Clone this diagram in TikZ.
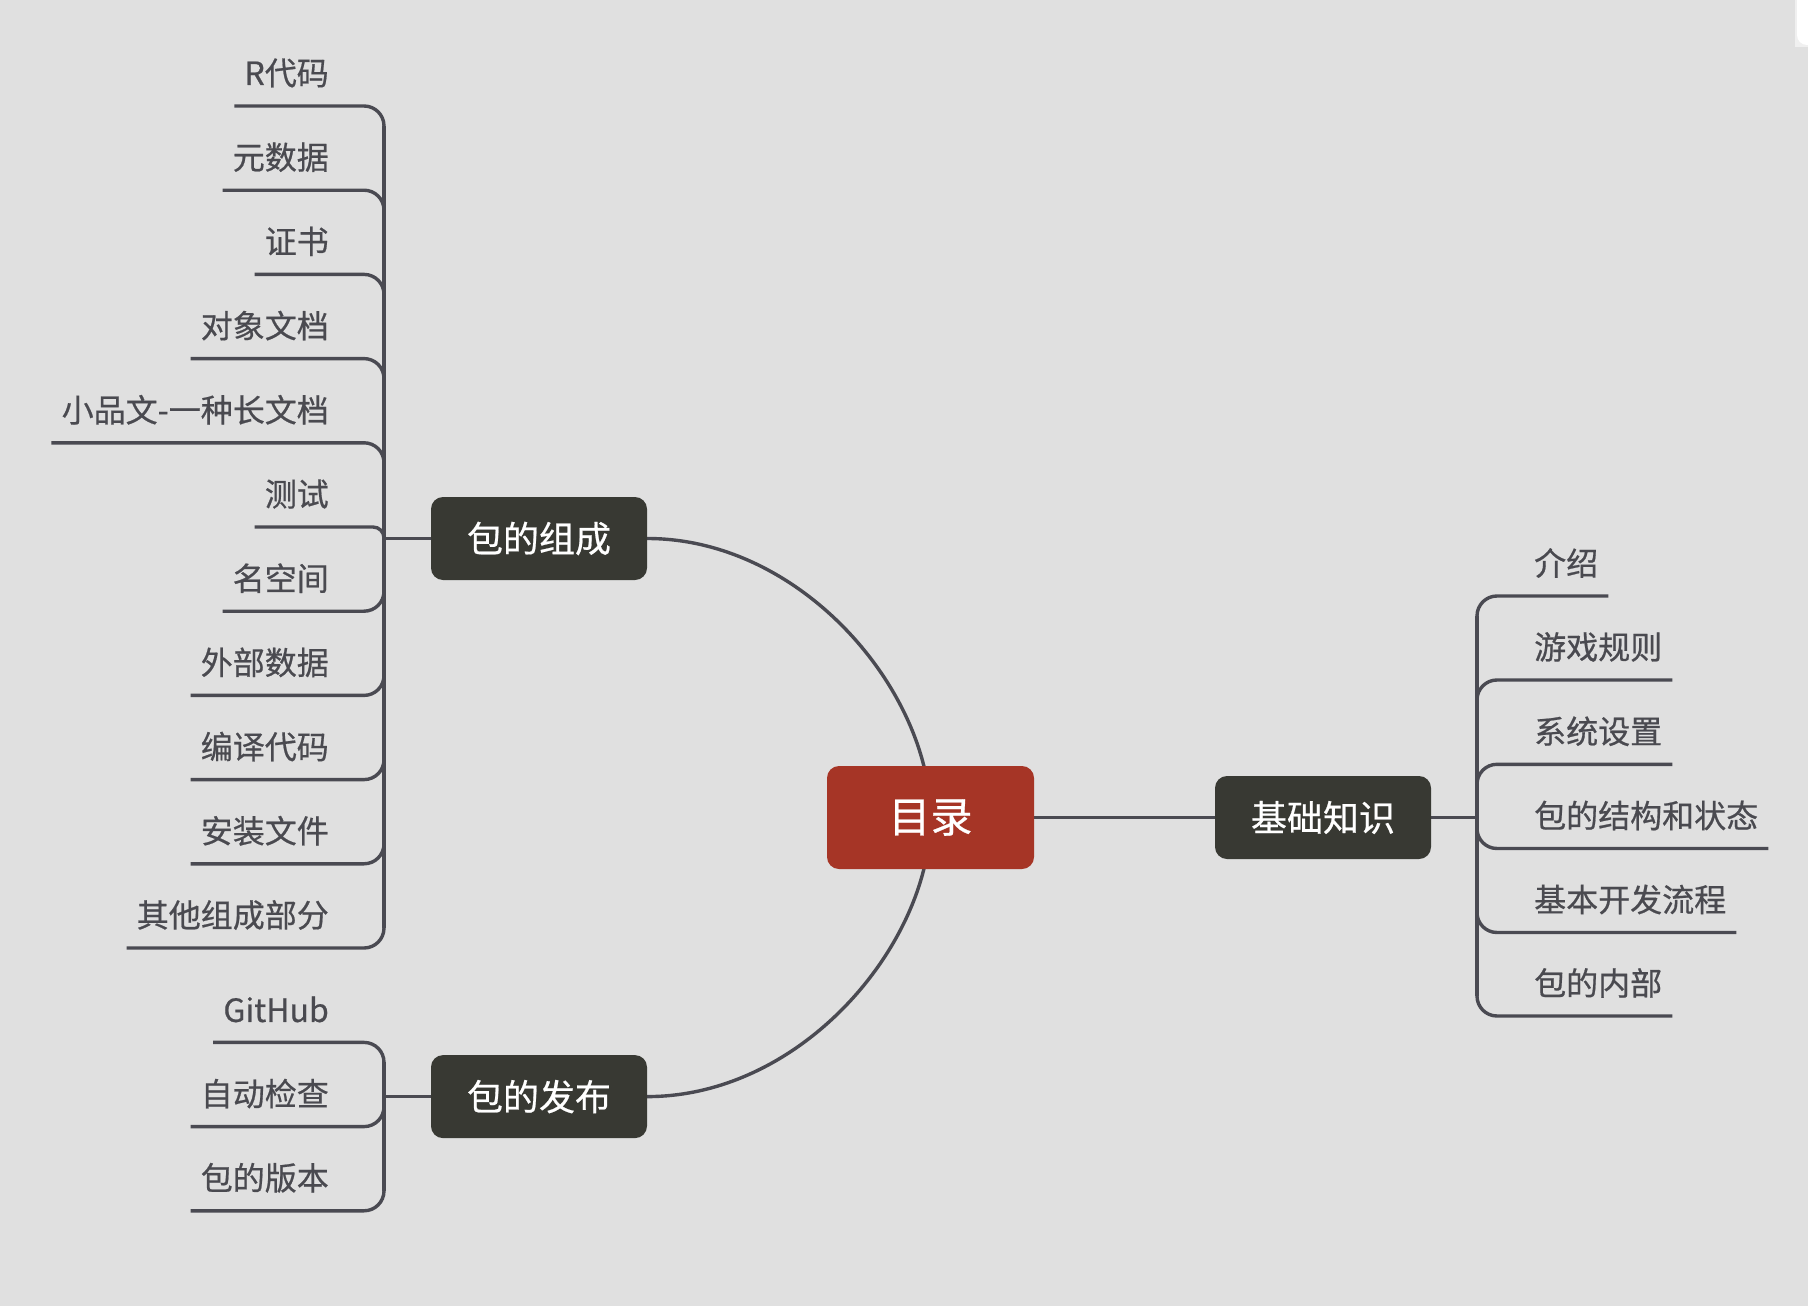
\documentclass[tikz,border=0pt]{standalone}
\usepackage{fontspec}
\newfontfamily\cjk{Noto Sans CJK SC}
\newfontfamily\cjkh[FakeBold=0.6]{Noto Sans CJK SC}
\definecolor{bgc}{HTML}{E0E0E0}
\definecolor{linec}{HTML}{4A4A52}
\definecolor{leafc}{HTML}{4A4A50}
\definecolor{topicc}{HTML}{383933}
\definecolor{rootc}{HTML}{A63526}
\pgfdeclarelayer{bgl}
\pgfdeclarelayer{backl}
\pgfsetlayers{bgl,backl,main}
\tikzset{
  conn/.style={draw=linec, line width=3.4pt},
  leaf/.style={inner sep=0pt, text=leafc, font=\cjkh\fontsize{32}{38}\selectfont},
  topic/.style={fill=topicc, rounded corners=12pt, text=white, minimum width=216pt, minimum height=83pt, inner sep=0pt, font=\cjkh\fontsize{36}{42}\selectfont},
  rootn/.style={fill=rootc, rounded corners=12pt, text=white, minimum width=207pt, minimum height=103pt, inner sep=0pt, font=\cjkh\fontsize{42}{48}\selectfont}
}
\begin{document}
\begin{tikzpicture}[x=1pt,y=-1pt]
\useasboundingbox (0,0) rectangle (1808,1306);
\begin{pgfonlayer}{bgl}
\fill[bgc] (0,0) rectangle (1808,1306);
\fill[black!6] (1795,-20) rectangle (1840,47);
\fill[white, rounded corners=10pt] (1797,-20) rectangle (1840,45);
\end{pgfonlayer}

% main nodes
\node[rootn] (root) at (930.5,817.5) {目录};
\node[topic] (g1) at (539,538.5) {包的组成};
\node[topic] (g2) at (539,1096.6) {包的发布};
\node[topic] (g3) at (1323,817.5) {基础知识};

\coordinate (vl) at (384,0);
\coordinate (vr) at (1477,0);

% left group 1
\foreach \i/\t/\ly/\r/\dy/\ang in {
  0/R代码/106.0/20/20/90,
  1/元数据/190.2/20/20/90,
  2/证书/274.4/20/20/90,
  3/对象文档/358.6/20/20/90,
  4/小品文-一种长文档/442.8/20/20/90,
  5/测试/527.0/11/11/90,
  6/名空间/611.2/20/-20/270,
  7/外部数据/695.4/20/-20/270,
  8/编译代码/779.6/20/-20/270,
  9/安装文件/863.8/20/-20/270,
  10/其他组成部分/948.0/20/-20/270}{
  \node[leaf, anchor=east] (a\i) at (329,\ly-33) {\t};
  \coordinate (la\i) at (0,\ly);
  \coordinate (ka\i) at (384-\r,\ly);
  \coordinate (ma\i) at (384,\ly+\dy);
  \begin{pgfonlayer}{backl}
  \draw[conn] ([xshift=-10pt]a\i.west |- la\i) -- (ka\i) to[out=0,in=\ang] (ma\i);
  \end{pgfonlayer}
}

% left group 2
\foreach \i/\t/\ly/\dy/\ang in {
  0/GitHub/1042.4/20/90,
  1/自动检查/1126.6/-20/270,
  2/包的版本/1210.8/-20/270}{
  \node[leaf, anchor=east] (p\i) at (329,\ly-33) {\t};
  \coordinate (lp\i) at (0,\ly);
  \coordinate (kp\i) at (364,\ly);
  \coordinate (mp\i) at (384,\ly+\dy);
  \begin{pgfonlayer}{backl}
  \draw[conn] ([xshift=-10pt]p\i.west |- lp\i) -- (kp\i) to[out=0,in=\ang] (mp\i);
  \end{pgfonlayer}
}

% right group
\foreach \i/\t/\ly/\dy/\ang in {
  0/介绍/596/20/90,
  1/游戏规则/680/20/90,
  2/系统设置/764.3/20/90,
  3/包的结构和状态/848.5/-20/270,
  4/基本开发流程/932.5/-20/270,
  5/包的内部/1016/-20/270}{
  \node[leaf, anchor=west] (b\i) at (1534,\ly-33) {\t};
  \coordinate (lb\i) at (0,\ly);
  \coordinate (kb\i) at (1497,\ly);
  \coordinate (mb\i) at (1477,\ly+\dy);
  \begin{pgfonlayer}{backl}
  \draw[conn] ([xshift=10pt]b\i.east |- lb\i) -- (kb\i) to[out=180,in=\ang] (mb\i);
  \end{pgfonlayer}
}

\begin{pgfonlayer}{backl}
% vertical spines
\draw[conn] (384,126) -- (384,928);
\draw[conn] (384,1062.4) -- (384,1190.8);
\draw[conn] (1477,616) -- (1477,996);
% topic to spine
\draw[conn] (g1.west) -- (g1.west -| vl);
\draw[conn] (g2.west) -- (g2.west -| vl);
\draw[conn] (g3.east) -- (g3.east -| vr);
% root connectors
\draw[conn] (root.center) -- (g3.west);
\draw[conn] (g1.east) .. controls (803,538.5) and (930.5,692) .. (root.center);
\draw[conn] (g2.east) .. controls (803,1096.6) and (930.5,943) .. (root.center);
\end{pgfonlayer}
\end{tikzpicture}
\end{document}
